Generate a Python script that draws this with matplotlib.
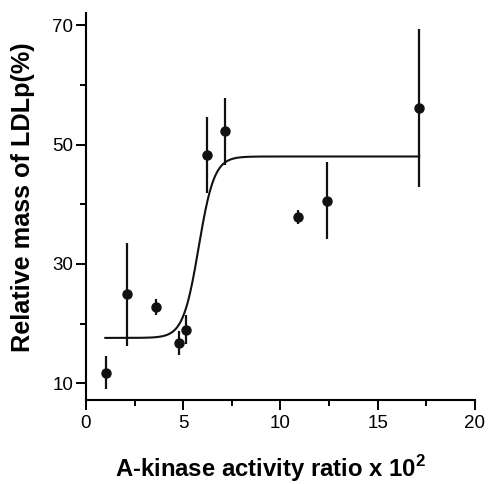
import matplotlib
matplotlib.use('Agg')
import matplotlib.pyplot as plt
import numpy as np

plt.rcParams['font.family'] = ['Liberation Sans', 'DejaVu Sans']
plt.rcParams['mathtext.fontset'] = 'custom'
plt.rcParams['mathtext.bf'] = 'Liberation Sans:bold'

# data
ratio = [1.03, 2.09, 3.6, 4.78, 5.14, 6.24, 7.15, 10.92, 12.41, 17.14]
mass = [11.8, 24.9, 22.8, 16.75, 19.0, 48.3, 52.2, 37.9, 40.6, 56.1]
err = [2.7, 8.6, 1.4, 2.0, 2.4, 6.4, 5.6, 1.2, 6.5, 13.2]

# Boltzmann fit parameters (estimated)
low, high, x0, dx = 17.6, 48.0, 5.8, 0.4
fit_start, fit_end = 1.0, 17.14

fig = plt.figure(figsize=(4.88, 4.84), dpi=100)
ax = fig.add_axes([0.176, 0.1736, 0.797, 0.799])

xs = np.linspace(fit_start, fit_end, 400)
ys = high + (low - high) / (1 + np.exp((xs - x0) / dx))
ax.plot(xs, ys, color='#111111', lw=1.5)

ax.errorbar(ratio, mass, yerr=err, fmt='o', color='#111111', ms=6.5,
            elinewidth=1.6, capsize=0)

ax.set_xlim(0, 20)
ax.set_ylim(7.2, 72)
ax.set_xticks([0, 5, 10, 15, 20])
ax.set_xticks([2.5, 7.5, 12.5, 17.5], minor=True)
ax.set_yticks([10, 30, 50, 70])
ax.set_yticks([20, 40, 60], minor=True)

for s in ['top', 'right']:
    ax.spines[s].set_visible(False)
for s in ['left', 'bottom']:
    ax.spines[s].set_linewidth(1.5)
ax.tick_params(which='major', length=7, width=1.4, labelsize=13.5, direction='out')
ax.tick_params(axis='y', which='major', pad=2)
ax.tick_params(axis='x', which='major', pad=4)
ax.tick_params(which='minor', length=4, width=1.4, direction='out')

fig.text(270 / 488, 1 - 477 / 484, 'A-kinase activity ratio x 10$^\\mathbf{2}$',
         fontsize=17.2, fontweight='bold', ha='center', va='baseline')
fig.text(23 / 488, 1 - 197 / 484, 'Relative mass of LDLp(%)', fontsize=18.2,
         fontweight='bold', rotation=90, ha='center', va='center')

plt.savefig('out.png', dpi=100)
